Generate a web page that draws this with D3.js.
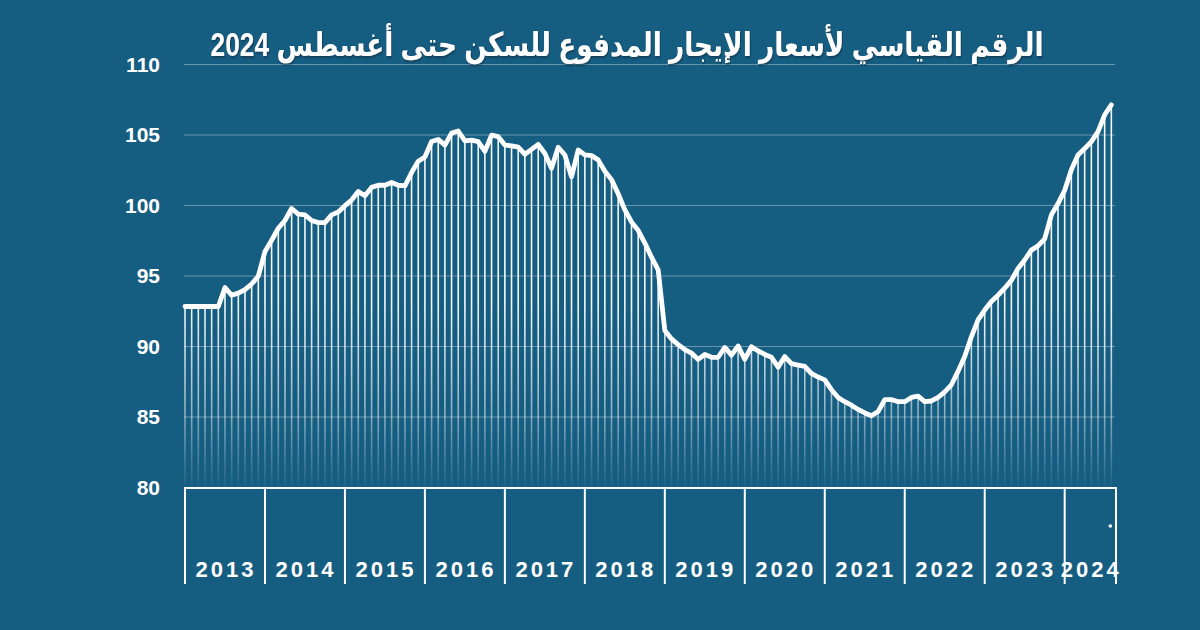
<!DOCTYPE html>
<html>
<head>
<meta charset="utf-8">
<script src="https://cdn.jsdelivr.net/npm/d3@7"></script>
<style>
  html, body { margin: 0; padding: 0; background: #165d82; }
  svg { display: block; }
</style>
</head>
<body>
<script>
// title and axis labels
var title = "الرقم القياسي لأسعار الإيجار المدفوع للسكن حتى أغسطس 2024";
var years = ["2013", "2014", "2015", "2016", "2017", "2018", "2019", "2020", "2021", "2022", "2023", "2024"];
var yTicks = [80, 85, 90, 95, 100, 105, 110];

// monthly index values, Jan 2013 .. Aug 2024
var v2013 = [92.8, 92.8, 92.8, 92.8, 92.8, 92.8, 94.15, 93.6, 93.75, 94.0, 94.4, 94.95];
var v2014 = [96.7, 97.5, 98.35, 98.9, 99.75, 99.35, 99.3, 98.9, 98.75, 98.75, 99.3, 99.5];
var v2015 = [99.95, 100.35, 100.95, 100.65, 101.25, 101.4, 101.4, 101.6, 101.4, 101.35, 102.3, 103.1];
var v2016 = [103.4, 104.5, 104.65, 104.25, 105.1, 105.25, 104.55, 104.6, 104.5, 103.8, 104.95, 104.85];
var v2017 = [104.25, 104.2, 104.1, 103.6, 103.95, 104.3, 103.65, 102.6, 104.1, 103.55, 102.0, 103.9];
var v2018 = [103.55, 103.5, 103.2, 102.4, 101.8, 100.8, 99.65, 98.8, 98.2, 97.3, 96.3, 95.4];
var v2019 = [91.1, 90.5, 90.1, 89.75, 89.5, 89.05, 89.4, 89.2, 89.2, 89.9, 89.35, 90.0];
var v2020 = [89.05, 89.95, 89.65, 89.4, 89.2, 88.5, 89.25, 88.75, 88.65, 88.55, 88.05, 87.8];
var v2021 = [87.6, 86.9, 86.35, 86.05, 85.8, 85.5, 85.25, 85.05, 85.35, 86.2, 86.2, 86.05];
var v2022 = [86.05, 86.35, 86.45, 86.05, 86.1, 86.35, 86.75, 87.25, 88.2, 89.25, 90.65, 91.85];
var v2023 = [92.55, 93.15, 93.6, 94.1, 94.65, 95.5, 96.1, 96.8, 97.1, 97.6, 99.3, 100.1];
var v2024 = [101.05, 102.5, 103.55, 104.0, 104.5, 105.2, 106.4, 107.1];

var values = [].concat(v2013, v2014, v2015, v2016, v2017, v2018, v2019, v2020, v2021, v2022, v2023, v2024);
var data = values.map(function(v, i) { return {i: i, v: v}; });

// set the dimensions and margins of the graph
var margin = {top: 64, right: 83, bottom: 143, left: 184},
    width = 1200 - margin.left - margin.right,
    height = 630 - margin.top - margin.bottom;

var x = d3.scaleLinear().domain([0, 140]).range([0, width]);
var y = d3.scaleLinear().domain([80, 110]).range([height, 0]);
var xEnd = 139.7;
function px(d) { return x(d.i + 0.15); }

var svg = d3.select("body").append("svg")
    .attr("width", 1200)
    .attr("height", 630);

svg.append("rect")
    .attr("width", 1200)
    .attr("height", 630)
    .attr("fill", "#165d82");

var defs = svg.append("defs");

var grad = defs.append("linearGradient")
    .attr("id", "fade")
    .attr("gradientUnits", "userSpaceOnUse")
    .attr("x1", 0).attr("x2", 0)
    .attr("y1", y(93)).attr("y2", y(80));
grad.append("stop").attr("offset", "0%").attr("stop-color", "#fff").attr("stop-opacity", 0.95);
grad.append("stop").attr("offset", "55%").attr("stop-color", "#fff").attr("stop-opacity", 0.55);
grad.append("stop").attr("offset", "100%").attr("stop-color", "#fff").attr("stop-opacity", 0.03);

var shadow = defs.append("filter").attr("id", "shadow")
    .attr("x", "-5%").attr("y", "-30%").attr("width", "110%").attr("height", "160%");
shadow.append("feDropShadow")
    .attr("dx", 1).attr("dy", 1.5).attr("stdDeviation", 0.8)
    .attr("flood-color", "#0a2f44").attr("flood-opacity", 0.8);

var g = svg.append("g")
    .attr("transform", "translate(" + margin.left + "," + margin.top + ")");

// horizontal grid lines
g.append("g")
  .selectAll("line")
    .data(yTicks.filter(function(t) { return t > 80; }))
  .enter().append("line")
    .attr("x1", 0)
    .attr("x2", x(xEnd))
    .attr("y1", function(d) { return y(d) + 0.5; })
    .attr("y2", function(d) { return y(d) + 0.5; })
    .attr("stroke", "#ffffff")
    .attr("stroke-opacity", 0.35)
    .attr("stroke-width", 1);

// y labels
g.append("g")
  .selectAll("text")
    .data(yTicks)
  .enter().append("text")
    .attr("x", -24)
    .attr("y", function(d) { return y(d); })
    .attr("dy", "0.36em")
    .attr("text-anchor", "end")
    .attr("fill", "#ffffff")
    .attr("font-family", "'Liberation Sans', Arial, sans-serif")
    .attr("font-weight", "bold")
    .attr("font-size", 21)
    .text(function(d) { return d; });

// drop lines under every month
g.append("g")
  .selectAll("line")
    .data(data)
  .enter().append("line")
    .attr("x1", px)
    .attr("x2", px)
    .attr("y1", function(d) { return y(d.v); })
    .attr("y2", y(80))
    .attr("stroke", "url(#fade)")
    .attr("stroke-width", 1.6);

// the index line
var valueline = d3.line()
    .x(px)
    .y(function(d) { return y(d.v); });

g.append("path")
    .datum(data)
    .attr("d", valueline)
    .attr("fill", "none")
    .attr("stroke", "#ffffff")
    .attr("stroke-width", 4.8)
    .attr("stroke-linejoin", "round")
    .attr("stroke-linecap", "round");

// x axis: baseline, year separators and labels
var axisH = 97;
var ax = g.append("g").attr("transform", "translate(0," + y(80) + ")");

ax.append("line")
    .attr("x1", 0).attr("x2", x(xEnd))
    .attr("y1", 1).attr("y2", 1)
    .attr("stroke", "#ffffff")
    .attr("stroke-width", 2);

var seps = years.map(function(yr, k) { return k * 12; }).concat([xEnd]);
ax.selectAll("line.sep")
    .data(seps)
  .enter().append("line")
    .attr("class", "sep")
    .attr("x1", function(d) { return x(d) + 1; })
    .attr("x2", function(d) { return x(d) + 1; })
    .attr("y1", 0)
    .attr("y2", axisH)
    .attr("stroke", "#ffffff")
    .attr("stroke-width", 2);

ax.selectAll("text.year")
    .data(years)
  .enter().append("text")
    .attr("class", "year")
    .attr("x", function(d, k) { return x((k * 12 + Math.min(k * 12 + 12, xEnd)) / 2) + 2; })
    .attr("y", 90)
    .attr("text-anchor", "middle")
    .attr("fill", "#ffffff")
    .attr("font-family", "'Liberation Sans', Arial, sans-serif")
    .attr("font-weight", "bold")
    .attr("font-size", 22)
    .attr("letter-spacing", 3)
    .text(function(d) { return d; });

// small dot under the last month
ax.append("circle")
    .attr("cx", px(data[data.length - 1]) - 1)
    .attr("cy", 39)
    .attr("r", 1.8)
    .attr("fill", "#ffffff");

// title: tall glyphs, squeezed to the width of the original
var t = svg.append("text")
    .attr("x", 0)
    .attr("y", 0)
    .attr("text-anchor", "middle")
    .attr("direction", "rtl")
    .attr("fill", "#ffffff")
    .attr("font-family", "'Liberation Sans', 'DejaVu Sans', sans-serif")
    .attr("font-weight", "bold")
    .attr("font-size", 33)
    .attr("filter", "url(#shadow)")
    .text(title);

var w = t.node().getComputedTextLength();
var sx = w > 0 ? 833 / w : 1;
t.attr("transform", "translate(627,56) scale(" + sx + ",1)");
</script>
</body>
</html>
